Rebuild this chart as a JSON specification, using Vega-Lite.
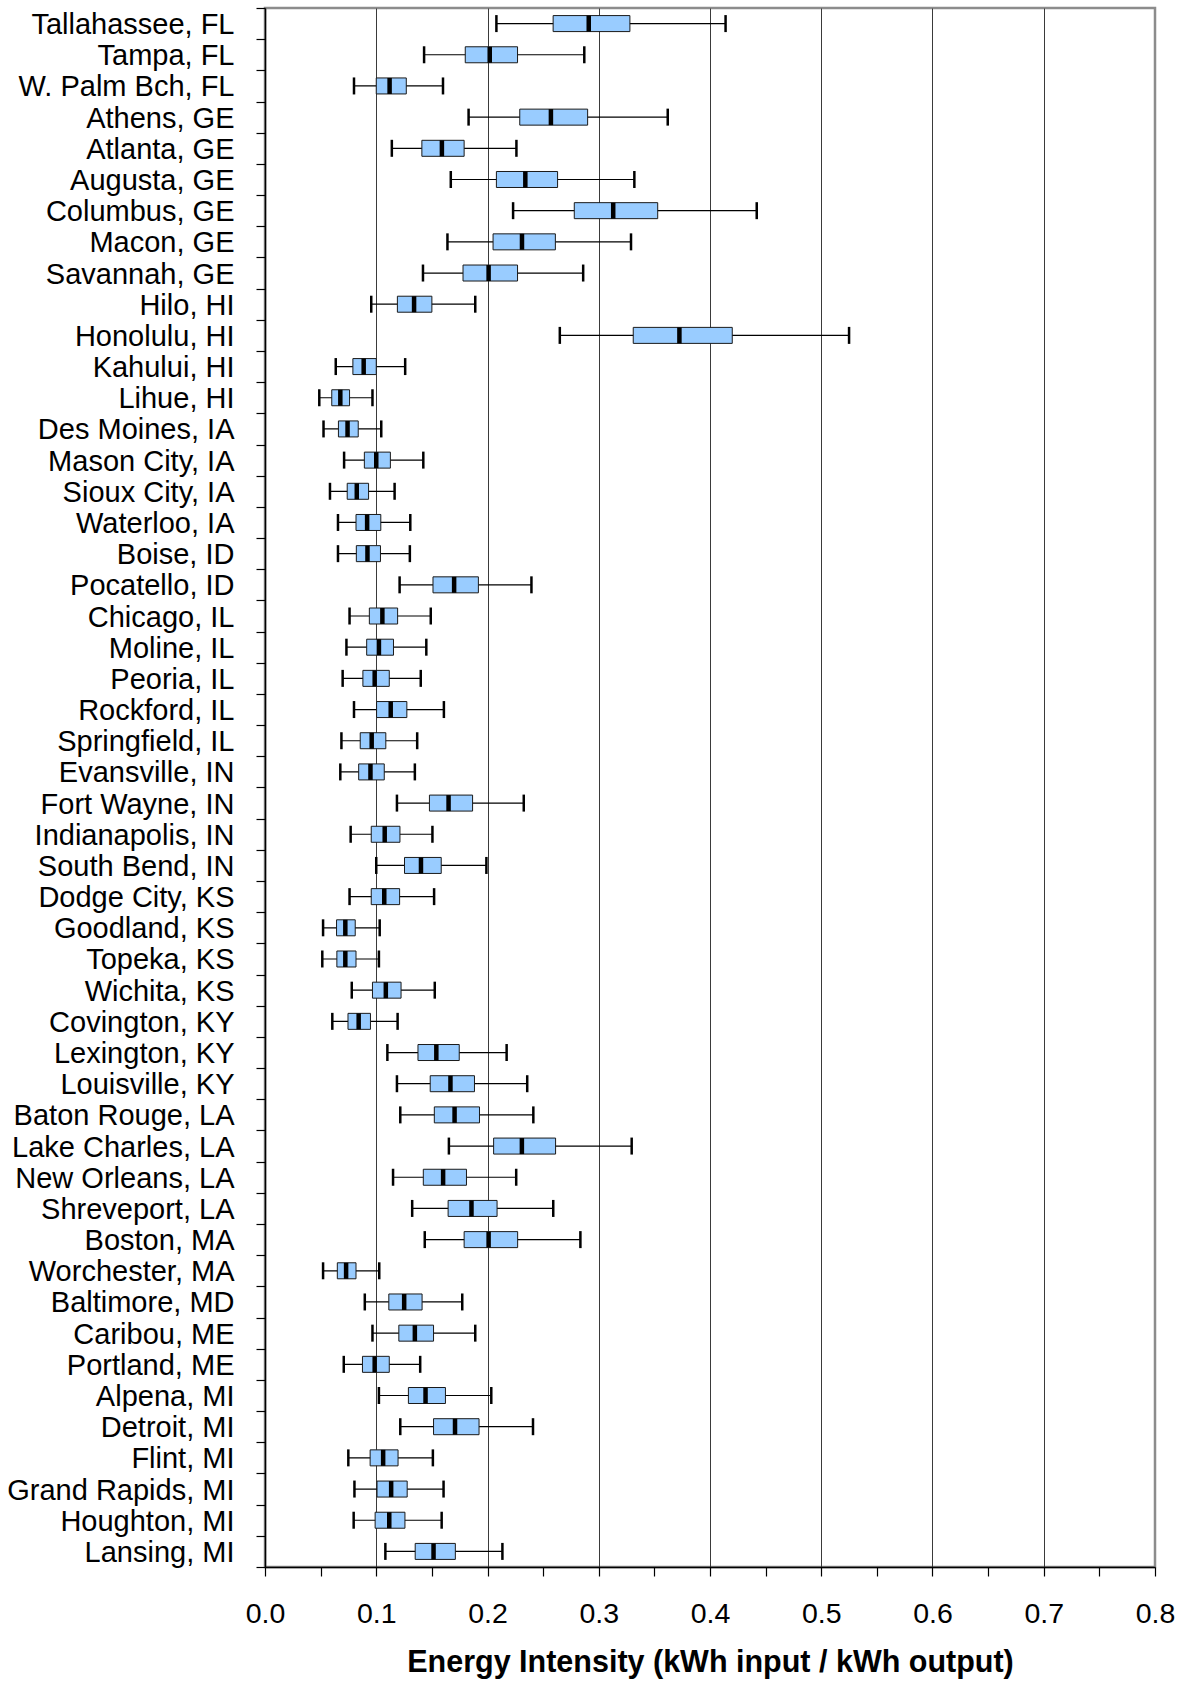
{
  "$schema": "https://vega.github.io/schema/vega-lite/v6.json",
  "autosize": {"type": "none"},
  "padding": {"left": 265, "top": 8, "right": 28, "bottom": 115},
  "width": 890,
  "height": 1559,
  "background": "white",
  "config": {
    "font": "Liberation Sans",
    "view": {"stroke": "#8c8c8c", "strokeWidth": 2.5},
    "axisX": {"domainColor": "black", "domainWidth": 1.5, "tickColor": "black", "tickWidth": 1.2, "tickSize": 9, "labelFontSize": 28.5, "labelColor": "black", "labelPadding": 23.5, "labelFlush": false, "labelOverlap": false, "titleFontSize": 30.5, "titleFontWeight": "bold", "titleColor": "black", "titlePadding": 19, "gridColor": "#3a3a3a", "gridWidth": 1},
    "axisY": {"domainColor": "black", "domainWidth": 1.5, "tickColor": "black", "tickWidth": 1.2, "tickSize": 9, "labelFontSize": 29, "labelColor": "black", "labelPadding": 22, "labelLimit": 400, "grid": false, "tickBand": "extent", "title": null, "labelOffset": 1}
  },
  "data": {"values": [
    {"city": "Tallahassee, FL", "lo": 0.208, "q1": 0.259, "med": 0.291, "q3": 0.328, "hi": 0.414},
    {"city": "Tampa, FL", "lo": 0.143, "q1": 0.180, "med": 0.202, "q3": 0.227, "hi": 0.287},
    {"city": "W. Palm Bch, FL", "lo": 0.080, "q1": 0.100, "med": 0.112, "q3": 0.127, "hi": 0.160},
    {"city": "Athens, GE", "lo": 0.183, "q1": 0.229, "med": 0.257, "q3": 0.290, "hi": 0.362},
    {"city": "Atlanta, GE", "lo": 0.114, "q1": 0.141, "med": 0.159, "q3": 0.179, "hi": 0.226},
    {"city": "Augusta, GE", "lo": 0.167, "q1": 0.208, "med": 0.234, "q3": 0.263, "hi": 0.332},
    {"city": "Columbus, GE", "lo": 0.223, "q1": 0.278, "med": 0.313, "q3": 0.353, "hi": 0.442},
    {"city": "Macon, GE", "lo": 0.164, "q1": 0.205, "med": 0.231, "q3": 0.261, "hi": 0.329},
    {"city": "Savannah, GE", "lo": 0.142, "q1": 0.178, "med": 0.201, "q3": 0.227, "hi": 0.286},
    {"city": "Hilo, HI", "lo": 0.0955, "q1": 0.119, "med": 0.134, "q3": 0.150, "hi": 0.189},
    {"city": "Honolulu, HI", "lo": 0.265, "q1": 0.331, "med": 0.3725, "q3": 0.420, "hi": 0.525},
    {"city": "Kahului, HI", "lo": 0.0636, "q1": 0.079, "med": 0.0887, "q3": 0.100, "hi": 0.126},
    {"city": "Lihue, HI", "lo": 0.0488, "q1": 0.060, "med": 0.0677, "q3": 0.076, "hi": 0.0966},
    {"city": "Des Moines, IA", "lo": 0.0526, "q1": 0.066, "med": 0.0742, "q3": 0.0838, "hi": 0.1045},
    {"city": "Mason City, IA", "lo": 0.0711, "q1": 0.0893, "med": 0.100, "q3": 0.1127, "hi": 0.1423},
    {"city": "Sioux City, IA", "lo": 0.0584, "q1": 0.0739, "med": 0.0825, "q3": 0.0931, "hi": 0.1165},
    {"city": "Waterloo, IA", "lo": 0.0656, "q1": 0.0818, "med": 0.0918, "q3": 0.1041, "hi": 0.1306},
    {"city": "Boise, ID", "lo": 0.0656, "q1": 0.0821, "med": 0.0921, "q3": 0.1038, "hi": 0.1302},
    {"city": "Pocatello, ID", "lo": 0.121, "q1": 0.151, "med": 0.170, "q3": 0.1918, "hi": 0.2395},
    {"city": "Chicago, IL", "lo": 0.076, "q1": 0.0938, "med": 0.1055, "q3": 0.1192, "hi": 0.149},
    {"city": "Moline, IL", "lo": 0.0732, "q1": 0.0914, "med": 0.1024, "q3": 0.1155, "hi": 0.145},
    {"city": "Peoria, IL", "lo": 0.0698, "q1": 0.088, "med": 0.0986, "q3": 0.1117, "hi": 0.140},
    {"city": "Rockford, IL", "lo": 0.080, "q1": 0.1003, "med": 0.113, "q3": 0.1275, "hi": 0.1608},
    {"city": "Springfield, IL", "lo": 0.0687, "q1": 0.0856, "med": 0.0959, "q3": 0.1086, "hi": 0.1368},
    {"city": "Evansville, IN", "lo": 0.0677, "q1": 0.0842, "med": 0.0948, "q3": 0.1072, "hi": 0.1347},
    {"city": "Fort Wayne, IN", "lo": 0.1186, "q1": 0.1478, "med": 0.165, "q3": 0.1866, "hi": 0.2326},
    {"city": "Indianapolis, IN", "lo": 0.077, "q1": 0.0955, "med": 0.1076, "q3": 0.1213, "hi": 0.1505},
    {"city": "South Bend, IN", "lo": 0.100, "q1": 0.1254, "med": 0.1402, "q3": 0.1584, "hi": 0.199},
    {"city": "Dodge City, KS", "lo": 0.076, "q1": 0.0955, "med": 0.1072, "q3": 0.121, "hi": 0.152},
    {"city": "Goodland, KS", "lo": 0.0522, "q1": 0.0643, "med": 0.0722, "q3": 0.0811, "hi": 0.1031},
    {"city": "Topeka, KS", "lo": 0.0515, "q1": 0.0646, "med": 0.0722, "q3": 0.0818, "hi": 0.1024},
    {"city": "Wichita, KS", "lo": 0.078, "q1": 0.0966, "med": 0.1086, "q3": 0.1223, "hi": 0.1526},
    {"city": "Covington, KY", "lo": 0.0605, "q1": 0.0746, "med": 0.0842, "q3": 0.0948, "hi": 0.1192},
    {"city": "Lexington, KY", "lo": 0.110, "q1": 0.1375, "med": 0.154, "q3": 0.1746, "hi": 0.2172},
    {"city": "Louisville, KY", "lo": 0.1186, "q1": 0.1485, "med": 0.1667, "q3": 0.1883, "hi": 0.2357},
    {"city": "Baton Rouge, LA", "lo": 0.1216, "q1": 0.1522, "med": 0.1704, "q3": 0.1928, "hi": 0.2412},
    {"city": "Lake Charles, LA", "lo": 0.1653, "q1": 0.2055, "med": 0.2309, "q3": 0.2612, "hi": 0.3296},
    {"city": "New Orleans, LA", "lo": 0.1151, "q1": 0.1423, "med": 0.1601, "q3": 0.1811, "hi": 0.2258},
    {"city": "Shreveport, LA", "lo": 0.1323, "q1": 0.1646, "med": 0.1856, "q3": 0.2086, "hi": 0.2591},
    {"city": "Boston, MA", "lo": 0.1436, "q1": 0.179, "med": 0.201, "q3": 0.2271, "hi": 0.2835},
    {"city": "Worchester, MA", "lo": 0.0522, "q1": 0.065, "med": 0.0729, "q3": 0.0818, "hi": 0.1027},
    {"city": "Baltimore, MD", "lo": 0.0897, "q1": 0.1113, "med": 0.1251, "q3": 0.1412, "hi": 0.1773},
    {"city": "Caribou, ME", "lo": 0.0966, "q1": 0.1203, "med": 0.1347, "q3": 0.1515, "hi": 0.189},
    {"city": "Portland, ME", "lo": 0.0708, "q1": 0.0876, "med": 0.0986, "q3": 0.1117, "hi": 0.1395},
    {"city": "Alpena, MI", "lo": 0.1024, "q1": 0.1289, "med": 0.1443, "q3": 0.1622, "hi": 0.2034},
    {"city": "Detroit, MI", "lo": 0.1216, "q1": 0.1515, "med": 0.1708, "q3": 0.1924, "hi": 0.2409},
    {"city": "Flint, MI", "lo": 0.0749, "q1": 0.0945, "med": 0.1062, "q3": 0.1196, "hi": 0.1509},
    {"city": "Grand Rapids, MI", "lo": 0.0804, "q1": 0.1007, "med": 0.1134, "q3": 0.1278, "hi": 0.1605},
    {"city": "Houghton, MI", "lo": 0.0797, "q1": 0.099, "med": 0.1117, "q3": 0.1258, "hi": 0.1588},
    {"city": "Lansing, MI", "lo": 0.1082, "q1": 0.135, "med": 0.1515, "q3": 0.1711, "hi": 0.2134}
  ]},
  "encoding": {
    "y": {"field": "city", "type": "nominal", "sort": null, "scale": {"paddingInner": 0, "paddingOuter": 0}, "axis": {"title": null}}
  },
  "layer": [
    {
      "mark": {"type": "rule", "color": "black", "strokeWidth": 1.2},
      "encoding": {
        "x": {"field": "lo", "type": "quantitative", "scale": {"domain": [0, 0.8], "nice": false, "zero": true},
          "axis": {
            "title": "Energy Intensity (kWh input / kWh output)",
            "values": [0, 0.025, 0.05, 0.075, 0.1, 0.125, 0.15, 0.175, 0.2, 0.225, 0.25, 0.275, 0.3, 0.325, 0.35, 0.375, 0.4, 0.425, 0.45, 0.475, 0.5, 0.525, 0.55, 0.575, 0.6, 0.625, 0.65, 0.675, 0.7, 0.725, 0.75, 0.775, 0.8],
            "labelExpr": "round(datum.value*40) % 4 == 0 ? format(datum.value, '.1f') : ''",
            "grid": true,
            "gridOpacity": {"condition": {"test": "round(datum.value*40) % 4 == 0 && datum.value > 0.01 && datum.value < 0.79", "value": 1}, "value": 0},
            "encode": {"ticks": {"update": {
              "y": {"signal": "round(datum.value*40) % 4 == 0 ? 0 : -7"},
              "y2": {"signal": "round(datum.value*40) % 4 == 0 ? 9 : 0"}
            }}}
          }
        },
        "x2": {"field": "hi"}
      }
    },
    {
      "mark": {"type": "bar", "fill": "#99CCFF", "stroke": "#1a1a1a", "strokeWidth": 1, "height": 16},
      "encoding": {
        "x": {"field": "q1", "type": "quantitative"},
        "x2": {"field": "q3"}
      }
    },
    {
      "mark": {"type": "tick", "color": "black", "thickness": 4.5, "size": 16, "opacity": 1},
      "encoding": {"x": {"field": "med", "type": "quantitative"}}
    },
    {
      "mark": {"type": "tick", "color": "black", "thickness": 2.5, "size": 17, "opacity": 1},
      "encoding": {"x": {"field": "lo", "type": "quantitative"}}
    },
    {
      "mark": {"type": "tick", "color": "black", "thickness": 2.5, "size": 17, "opacity": 1},
      "encoding": {"x": {"field": "hi", "type": "quantitative"}}
    }
  ]
}
